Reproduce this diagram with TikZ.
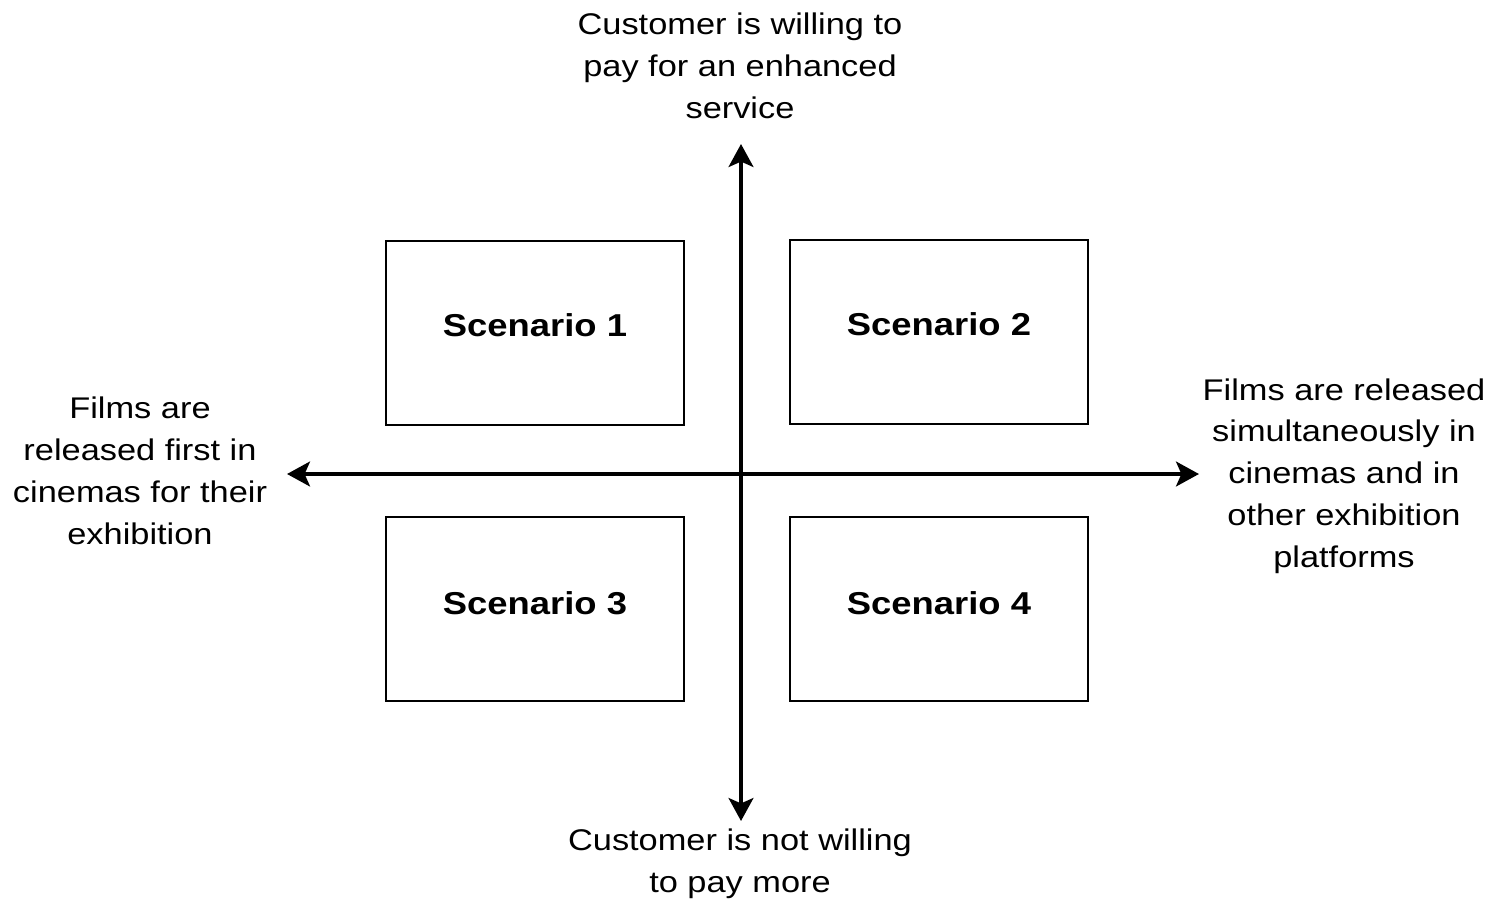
\documentclass[tikz,border=0pt]{standalone}
\usepackage{fontspec}
\setmainfont{Liberation Sans}[FakeStretch=1.15]
\usetikzlibrary{arrows.meta}
\begin{document}
\begin{tikzpicture}[x=0.01cm,y=-0.01cm,
  axis/.style={line width=1.4pt,{Stealth[length=6.5pt,width=7pt,inset=1.5pt]}-{Stealth[length=6.5pt,width=7pt,inset=1.5pt]}},
  scen/.style={draw,line width=0.7pt,minimum width=2.98cm,minimum height=1.84cm,inner sep=0pt},
  stext/.style={inner sep=0pt,font=\fontsize{9pt}{11pt}\selectfont\bfseries},
  lbl/.style={align=center,inner sep=0pt,font=\fontsize{8.5pt}{11.9pt}\selectfont}]
  \useasboundingbox (0,0) rectangle (1497,900);
  % quadrant boxes
  \node[scen] (s1) at (535,333) {};
  \node[scen] (s2) at (939,332) {};
  \node[scen] (s3) at (535,609) {};
  \node[scen] (s4) at (939,609) {};
  \node[stext] at ([yshift=0.08cm]s1.center) {Scenario 1};
  \node[stext] at ([yshift=0.08cm]s2.center) {Scenario 2};
  \node[stext] at ([yshift=0.06cm]s3.center) {Scenario 3};
  \node[stext] at ([yshift=0.06cm]s4.center) {Scenario 4};
  % axis end points
  \coordinate (top) at (741,144);
  \coordinate (bot) at (741,821);
  \coordinate (lft) at (287,474);
  \coordinate (rgt) at (1199,474);
  \draw[axis] (lft) -- (rgt);
  \draw[axis] (bot) -- (top);
  % axis labels
  \node[lbl] (ltop) at (740,66) {Customer is willing to\\pay for an enhanced\\service};
  \node[lbl] (lbot) at (740,864) {Customer is not willing\\to pay more};
  \node[lbl] (llft) at (140,471) {Films are\\released first in\\cinemas for their\\exhibition};
  \node[lbl] (lrgt) at (1344,476) {Films are released\\simultaneously in\\cinemas and in\\other exhibition\\platforms};
\end{tikzpicture}
\end{document}
